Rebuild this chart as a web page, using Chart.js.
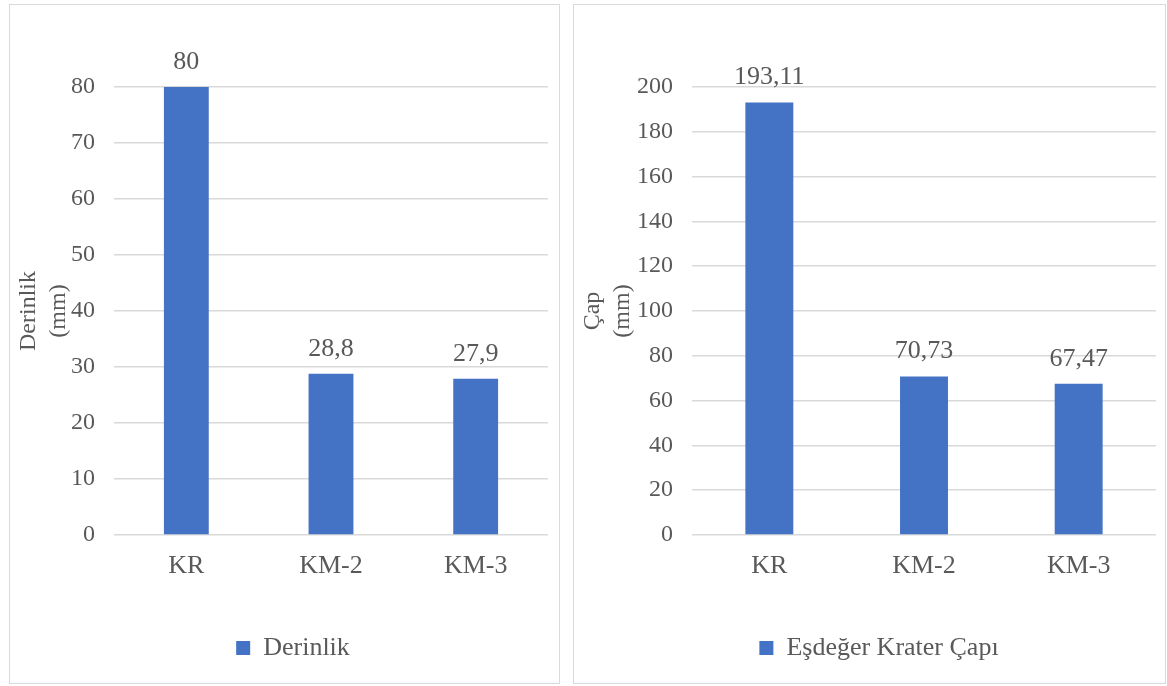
<!DOCTYPE html>
<html>
<head>
<meta charset="utf-8">
<script src="https://cdn.jsdelivr.net/npm/chart.js@4.4.1/dist/chart.umd.min.js"></script>
<style>
    html, body { margin: 0; padding: 0; background: #ffffff; }
    .panel {
        position: absolute;
        top: 4px;
        height: 678px;
        border: 1px solid #d9d9d9;
        background: #ffffff;
    }
    #panelLeft { left: 9px; width: 549px; }
    #panelRight { left: 573px; width: 591px; }
</style>
</head>
<body>
<div class="panel" id="panelLeft"><canvas id="depthChart"></canvas></div>
<div class="panel" id="panelRight"><canvas id="craterChart"></canvas></div>
<script>
    var categories = ['KR', 'KM-2', 'KM-3'];
    var depthValues = [80, 28.8, 27.9];
    var craterValues = [193.11, 70.73, 67.47];
    var depthTicks = [0, 10, 20, 30, 40, 50, 60, 70, 80];
    var craterTicks = [0, 20, 40, 60, 80, 100, 120, 140, 160, 180, 200];

    var textColor = '#595959';
    var gridColor = '#d9d9d9';
    var barColor = '#4472c4';
    var fontFamily = "'Liberation Serif', 'Times New Roman', serif";

    // draws the values above each bar, with a decimal comma
    var valueLabels = {
        id: 'valueLabels',
        afterDatasetsDraw: function (chart) {
            var ctx = chart.ctx;
            var meta = chart.getDatasetMeta(0);
            var data = chart.data.datasets[0].data;
            ctx.save();
            ctx.font = '26px ' + fontFamily;
            ctx.fillStyle = textColor;
            ctx.textAlign = 'center';
            ctx.textBaseline = 'middle';
            meta.data.forEach(function (bar, i) {
                ctx.fillText(String(data[i]).replace('.', ','), bar.x, bar.y - 25);
            });
            ctx.restore();
        }
    };

    // nudge the legend a little to the right, as in the original
    var legendShift = {
        id: 'legendShift',
        afterLayout: function (chart) {
            if (chart.legend) {
                chart.legend.left += 14;
                chart.legend.right += 14;
            }
        }
    };

    function makeChart(canvasId, values, ticks, seriesLabel, titleLines, yWidth, rightPad) {
        var yMax = ticks[ticks.length - 1];
        var step = ticks[1] - ticks[0];
        return new Chart(document.getElementById(canvasId), {
            type: 'bar',
            data: {
                labels: categories,
                datasets: [{
                    label: seriesLabel,
                    data: values,
                    backgroundColor: barColor,
                    borderWidth: 0,
                    categoryPercentage: 1,
                    barPercentage: 0.31
                }]
            },
            options: {
                responsive: true,
                maintainAspectRatio: false,
                animation: false,
                layout: {
                    padding: { top: 82, right: rightPad, bottom: 12, left: 0 }
                },
                plugins: {
                    tooltip: { enabled: false },
                    legend: {
                        position: 'bottom',
                        labels: {
                            boxWidth: 14,
                            boxHeight: 14,
                            color: textColor,
                            font: { family: fontFamily, size: 26 },
                            padding: 10
                        }
                    }
                },
                scales: {
                    x: {
                        grid: { display: false, drawTicks: false },
                        border: { display: false },
                        ticks: {
                            color: textColor,
                            font: { family: fontFamily, size: 26 },
                            padding: 16
                        },
                        afterFit: function (scale) {
                            scale.height = 90;
                        }
                    },
                    y: {
                        min: 0,
                        max: yMax,
                        grid: { color: gridColor, lineWidth: 1.5, drawTicks: false },
                        border: { display: false },
                        ticks: {
                            stepSize: step,
                            color: textColor,
                            font: { family: fontFamily, size: 24 },
                            padding: 19
                        },
                        title: {
                            display: true,
                            text: titleLines,
                            color: textColor,
                            font: { family: fontFamily, size: 24, lineHeight: 1.25 },
                            padding: { top: 4, bottom: 0 }
                        },
                        afterFit: function (scale) {
                            scale.width = yWidth;
                        }
                    }
                }
            },
            plugins: [valueLabels, legendShift]
        });
    }

    makeChart('depthChart', depthValues, depthTicks, 'Derinlik', ['Derinlik', '(mm)'], 104, 11);
    makeChart('craterChart', craterValues, craterTicks, 'Eşdeğer Krater Çapı', ['Çap', '(mm)'], 118, 9);
</script>
</body>
</html>
